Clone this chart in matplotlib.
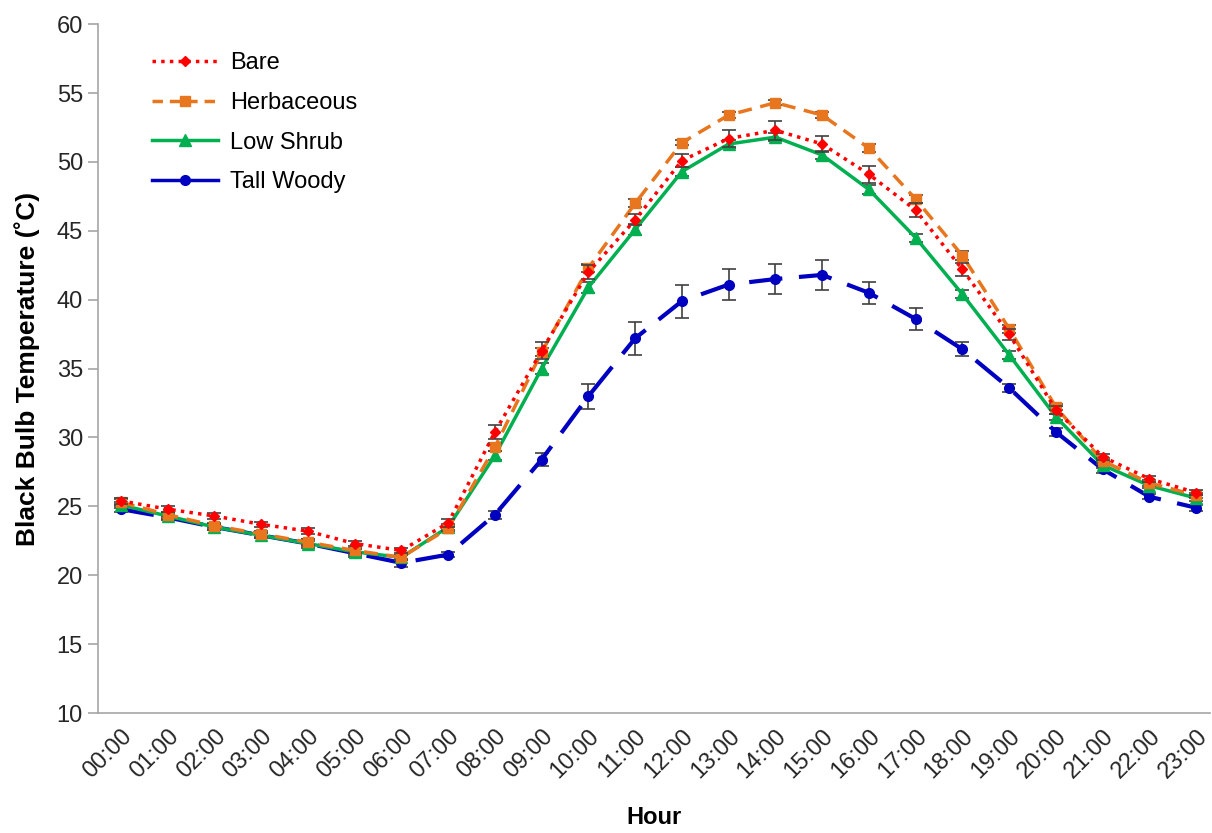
import numpy as np
import matplotlib
matplotlib.use("Agg")
import matplotlib.pyplot as plt
from matplotlib.lines import Line2D

plt.rcParams['font.family'] = ['Liberation Sans', 'DejaVu Sans']

# hours of the day
hours = ["%02d:00" % h for h in range(24)]

# black bulb temperature by cover type (deg C)
bare = [25.4, 24.8, 24.3, 23.7, 23.2, 22.3, 21.8, 23.8, 30.4, 36.3, 42.0, 45.8,
        50.1, 51.7, 52.3, 51.3, 49.1, 46.5, 42.2, 37.5, 32.0, 28.6, 27.0, 26.0]
bare_err = [0.2, 0.2, 0.2, 0.2, 0.2, 0.2, 0.2, 0.3, 0.5, 0.6, 0.5, 0.4,
            0.5, 0.6, 0.7, 0.6, 0.6, 0.5, 0.5, 0.4, 0.3, 0.2, 0.2, 0.2]

herb = [25.3, 24.4, 23.6, 23.0, 22.4, 21.8, 21.3, 23.4, 29.3, 36.2, 42.3, 47.0,
        51.4, 53.4, 54.3, 53.4, 51.0, 47.3, 43.2, 37.9, 32.2, 28.3, 26.7, 25.8]
herb_err = [0.2, 0.2, 0.2, 0.2, 0.2, 0.2, 0.2, 0.2, 0.3, 0.3, 0.3, 0.3,
            0.2, 0.2, 0.2, 0.2, 0.3, 0.3, 0.3, 0.3, 0.2, 0.2, 0.2, 0.2]

shrub = [25.1, 24.3, 23.5, 22.9, 22.3, 21.7, 21.3, 23.5, 28.7, 35.0, 40.9, 45.1,
         49.3, 51.3, 51.8, 50.5, 48.0, 44.5, 40.4, 36.0, 31.5, 28.0, 26.5, 25.6]
shrub_err = [0.2, 0.2, 0.2, 0.2, 0.2, 0.2, 0.2, 0.2, 0.3, 0.4, 0.4, 0.4,
             0.3, 0.3, 0.3, 0.3, 0.3, 0.3, 0.3, 0.3, 0.2, 0.2, 0.2, 0.2]

woody = [24.8, 24.2, 23.5, 22.9, 22.3, 21.6, 20.9, 21.5, 24.4, 28.4, 33.0, 37.2,
         39.9, 41.1, 41.5, 41.8, 40.5, 38.6, 36.4, 33.6, 30.4, 27.7, 25.7, 24.9]
woody_err = [0.2, 0.2, 0.2, 0.2, 0.3, 0.3, 0.3, 0.2, 0.3, 0.5, 0.9, 1.2,
             1.2, 1.1, 1.1, 1.1, 0.8, 0.8, 0.5, 0.3, 0.3, 0.3, 0.2, 0.2]

x = np.arange(len(hours))

fig = plt.figure(figsize=(12.12, 8.33), dpi=100)
ax = fig.add_axes([0.0805, 0.144, 0.918, 0.827])

eb = dict(ecolor='#404040', elinewidth=1.2, capsize=5, capthick=1.2)

ax.errorbar(x, woody, yerr=woody_err, color='#0000C0', linestyle=(0, (8, 4)),
            linewidth=3, marker='o', markersize=7, zorder=2, **eb)
ax.errorbar(x, shrub, yerr=shrub_err, color='#00B050', linestyle='-',
            linewidth=2.5, marker='^', markersize=8, zorder=3, **eb)
ax.errorbar(x, herb, yerr=herb_err, color='#E8761E', linestyle=(0, (4, 2.5)),
            linewidth=2.5, marker='s', markersize=7, zorder=4, **eb)
ax.errorbar(x, bare, yerr=bare_err, color='#FF0000', linestyle=(0, (1, 1.5)),
            linewidth=2.5, marker='D', markersize=5, zorder=5, **eb)

ax.set_xlim(-0.5, 23.3)
ax.set_ylim(10, 60)
ax.set_yticks(range(10, 61, 5))
ax.set_xticks(x)
ax.set_xticklabels(hours, rotation=45, ha='right', rotation_mode='anchor')

for s in ['top', 'right']:
    ax.spines[s].set_visible(False)
for s in ['left', 'bottom']:
    ax.spines[s].set_color('#A6A6A6')
    ax.spines[s].set_linewidth(1.2)
ax.tick_params(axis='both', colors='#A6A6A6', length=7, width=1.2, labelsize=17,
               labelcolor='#262626')
ax.tick_params(axis='x', length=0, pad=9)

ax.set_xlabel('Hour', fontsize=17, fontweight='bold', va='top')
ax.xaxis.set_label_coords(0.5, -0.135)
ax.set_ylabel('Black Bulb Temperature (\u02daC)', fontsize=19, fontweight='bold')
ax.yaxis.set_label_coords(-0.052, 0.5)

handles = [
    Line2D([], [], color='#FF0000', linestyle=(0, (1, 1.5)), linewidth=2.5, marker='D', markersize=5),
    Line2D([], [], color='#E8761E', linestyle=(0, (3, 2)), linewidth=2.5, marker='s', markersize=7),
    Line2D([], [], color='#00B050', linestyle='-', linewidth=2.5, marker='^', markersize=8),
    Line2D([], [], color='#0000C0', linestyle='-', linewidth=2.5, marker='o', markersize=7),
]
labels = ['Bare', 'Herbaceous', 'Low Shrub', 'Tall Woody']
ax.legend(handles, labels, loc='upper left', bbox_to_anchor=(0.03, 0.99),
          frameon=False, fontsize=17, handlelength=2.8, handletextpad=0.5,
          labelspacing=0.75)

plt.savefig('out.png', dpi=100)
